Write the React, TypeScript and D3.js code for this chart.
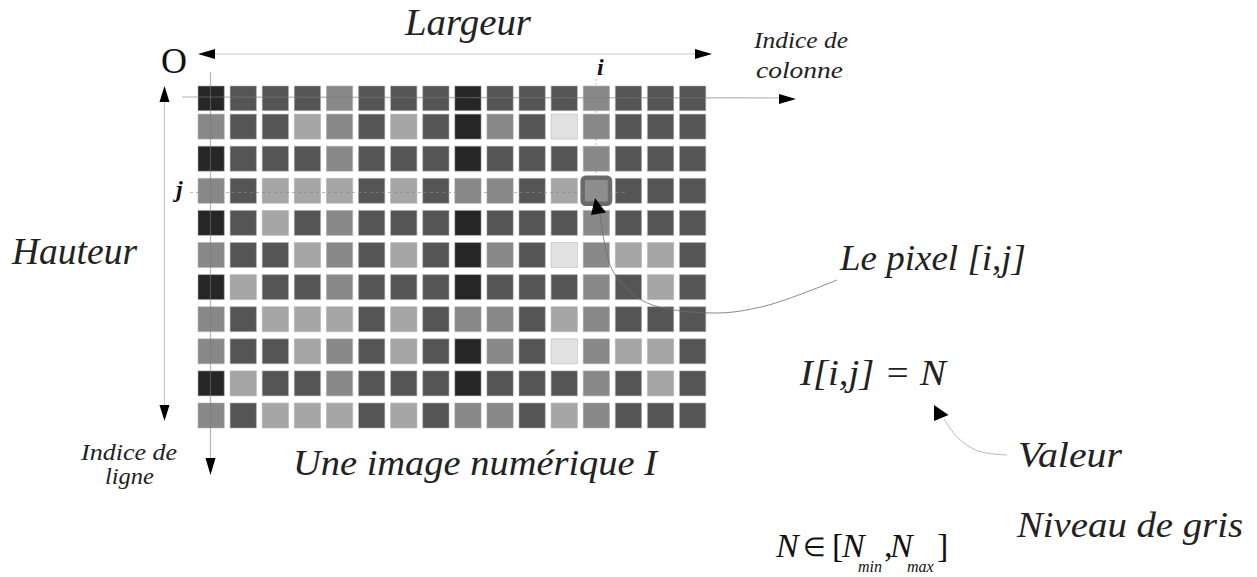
import React from "react";
import * as d3 from "d3";

// ---- data ----
const grayLevels = ["#262626", "#555555", "#888888", "#a6a6a6", "#e1e1e1"];
const pixelRows: number[][] = [
  [0, 1, 1, 1, 2, 1, 1, 1, 0, 1, 1, 1, 2, 1, 1, 1],
  [2, 1, 1, 3, 2, 1, 3, 1, 0, 2, 1, 4, 2, 1, 1, 1],
  [0, 1, 1, 1, 2, 1, 1, 1, 0, 1, 1, 1, 2, 1, 1, 1],
  [2, 1, 3, 3, 3, 1, 3, 1, 2, 2, 1, 3, 2, 1, 1, 1],
  [0, 1, 3, 1, 2, 1, 1, 1, 0, 1, 1, 1, 2, 1, 1, 1],
  [2, 1, 1, 3, 2, 1, 3, 1, 0, 2, 1, 4, 2, 3, 3, 1],
  [0, 3, 1, 1, 2, 1, 1, 1, 0, 1, 1, 1, 2, 1, 3, 1],
  [2, 1, 3, 3, 3, 1, 3, 1, 2, 2, 1, 3, 2, 1, 1, 1],
  [2, 1, 1, 3, 2, 1, 3, 1, 0, 2, 1, 4, 2, 3, 3, 1],
  [0, 3, 1, 1, 2, 1, 1, 1, 0, 1, 1, 1, 2, 1, 3, 1],
  [2, 1, 3, 3, 3, 1, 3, 1, 2, 2, 1, 3, 2, 1, 1, 1],
];
const selectedPixel = { col: 12, row: 3 };
const labelWidth = "Largeur";
const labelHeight = "Hauteur";
const labelColIndex = ["Indice de", "colonne"];
const labelRowIndex = ["Indice de", "ligne"];
const labelImage = "Une image numérique I";
const labelPixel = "Le pixel [i,j]";
const labelValue = ["Valeur", "Niveau de gris"];
const labelFormula = "I[i,j] = N";

const W = 1257;
const H = 577;
const FONT = '"Liberation Serif", "Times New Roman", Times, serif';

export default function App() {
  const nCols = pixelRows[0].length;
  const nRows = pixelRows.length;
  const x = d3.scaleLinear().domain([0, nCols]).range([198, 198 + 32.1 * nCols]);
  const y = d3.scaleLinear().domain([0, nRows]).range([82, 82 + 32.1 * nRows]);
  const cw = 26.3;
  const ch = 25;

  const cells: { c: number; r: number; v: number }[] = [];
  pixelRows.forEach((row, r) => row.forEach((v, c) => cells.push({ c, r, v })));

  const cellY = (r: number) => (r === 0 ? y(0) + 4 : y(r));
  const cellH = (r: number) => (r === 0 ? ch - 0.3 : ch);

  const sx = x(selectedPixel.col);
  const sy = cellY(selectedPixel.row);
  const curveLine = d3.line().curve(d3.curveCatmullRom.alpha(0.5));

  const pixelPointer = curveLine([
    [600, 213],
    [604, 240],
    [614, 273],
    [645, 302],
    [713, 313],
    [765, 306],
    [837, 280],
  ]);
  const valuePointer = curveLine([
    [944, 419],
    [958, 438],
    [978, 451],
    [1007, 455],
  ]);

  const tri = (pts: number[][]) => "M" + pts.map((p) => p.join(",")).join("L") + "Z";
  const it = { fontStyle: "italic" as const };

  return (
    <svg
      width={W}
      height={H}
      style={{ position: "absolute", left: 0, top: 0, background: "#fff", fontFamily: FONT }}
    >
      <rect width={W} height={H} fill="#fff" />
      {/* pixel grid */}
      {cells.map((d) => (
        <rect
          key={`${d.r}-${d.c}`}
          x={x(d.c)}
          y={cellY(d.r)}
          width={cw}
          height={cellH(d.r)}
          fill={grayLevels[d.v]}
          stroke="#b4b4b4"
          strokeOpacity={0.55}
          strokeWidth={1}
        />
      ))}
      {/* selected pixel highlight */}
      <rect
        x={sx - 0.5}
        y={sy - 0.5}
        width={cw + 1}
        height={ch + 1}
        rx={3}
        fill="#8e8e8e"
        stroke="#6b6b6b"
        strokeWidth={4.5}
      />

      {/* Largeur arrow */}
      <line x1={212} y1={54} x2={698} y2={54} stroke="#c8c8c8" strokeWidth={1.2} />
      <path d={tri([[198, 54], [215, 49], [215, 59]])} fill="#000" />
      <path d={tri([[712, 54], [695, 49], [695, 59]])} fill="#000" />

      {/* Hauteur arrow */}
      <line x1={164.5} y1={100} x2={164.5} y2={406} stroke="#c8c8c8" strokeWidth={1.2} />
      <path d={tri([[164.5, 86], [159.5, 102], [169.5, 102]])} fill="#000" />
      <path d={tri([[164.5, 421], [159.5, 405], [169.5, 405]])} fill="#000" />

      {/* column index axis */}
      <line x1={182} y1={97} x2={782} y2={98} stroke="#7a7a7a" strokeOpacity={0.55} strokeWidth={1.2} />
      <path d={tri([[796, 99], [779, 94], [779, 104]])} fill="#000" />

      {/* row index axis */}
      <line x1={210.5} y1={72} x2={210.5} y2={460} stroke="#7a7a7a" strokeOpacity={0.55} strokeWidth={1.2} />
      <path d={tri([[210.5, 475], [205.5, 458], [215.5, 458]])} fill="#000" />

      {/* i / j guides */}
      <line x1={596} y1={79} x2={596} y2={205} stroke="#888" strokeOpacity={0.6} strokeWidth={1} strokeDasharray="2,2" />
      <line x1={190} y1={192.5} x2={625} y2={192.5} stroke="#888" strokeOpacity={0.6} strokeWidth={1} strokeDasharray="3,3" />

      {/* pixel pointer */}
      <path d={pixelPointer || ""} fill="none" stroke="#6e6e6e" strokeOpacity={0.8} strokeWidth={1} />
      <path d={tri([[595, 198], [591, 215], [606, 212.5]])} fill="#000" />

      {/* value pointer */}
      <path d={valuePointer || ""} fill="none" stroke="#b8b8b8" strokeWidth={1} />
      <path d={tri([[934, 405], [934, 421], [948.5, 415]])} fill="#000" />

      {/* texts */}
      <text x={161} y={73} fontSize={36} fill="#111" textLength={26} lengthAdjust="spacingAndGlyphs">O</text>
      <text x={405} y={35} fontSize={38} style={it} fill="#222" textLength={126} lengthAdjust="spacingAndGlyphs">
        {labelWidth}
      </text>
      <text x={12} y={264} fontSize={38} style={it} fill="#222" textLength={125} lengthAdjust="spacingAndGlyphs">
        {labelHeight}
      </text>
      <text x={754} y={48} fontSize={24} style={it} fill="#222" textLength={94} lengthAdjust="spacingAndGlyphs">
        {labelColIndex[0]}
      </text>
      <text x={756} y={78} fontSize={24} style={it} fill="#222" textLength={87} lengthAdjust="spacingAndGlyphs">
        {labelColIndex[1]}
      </text>
      <text x={81} y={460} fontSize={24} style={it} fill="#222" textLength={96} lengthAdjust="spacingAndGlyphs">
        {labelRowIndex[0]}
      </text>
      <text x={105} y={484} fontSize={24} style={it} fill="#222" textLength={49} lengthAdjust="spacingAndGlyphs">
        {labelRowIndex[1]}
      </text>
      <text x={597} y={75} fontSize={24} style={it} fontWeight="bold" fill="#111">i</text>
      <text x={176} y={197} fontSize={24} style={it} fontWeight="bold" fill="#111">j</text>
      <text x={840} y={270} fontSize={36} style={it} fill="#222" textLength={186} lengthAdjust="spacingAndGlyphs">
        {labelPixel}
      </text>
      <text x={293} y={475} fontSize={36} style={it} fill="#222" textLength={364} lengthAdjust="spacingAndGlyphs">
        {labelImage}
      </text>
      <text x={800} y={385} fontSize={36} style={it} fill="#222" textLength={146} lengthAdjust="spacingAndGlyphs">
        {labelFormula}
      </text>
      <text x={1018} y={467} fontSize={36} style={it} fill="#222" textLength={104} lengthAdjust="spacingAndGlyphs">
        {labelValue[0]}
      </text>
      <text x={1017} y={537} fontSize={36} style={it} fill="#222" textLength={226} lengthAdjust="spacingAndGlyphs">
        {labelValue[1]}
      </text>
      {/* N ∈ [N_min, N_max] as one text element */}
      <text fill="#111" fontSize={34} y={557}>
        <tspan x={776} y={557} style={it}>N</tspan>
        <tspan x={803} y={556} fontSize={26}>∈</tspan>
        <tspan x={832} y={557}>[</tspan>
        <tspan x={842} y={557} style={it}>N</tspan>
        <tspan x={858} y={572} fontSize={16} style={it}>min</tspan>
        <tspan x={884} y={557}>,</tspan>
        <tspan x={890} y={557} style={it}>N</tspan>
        <tspan x={907} y={572} fontSize={16} style={it}>max</tspan>
        <tspan x={937} y={557}>]</tspan>
      </text>
    </svg>
  );
}
